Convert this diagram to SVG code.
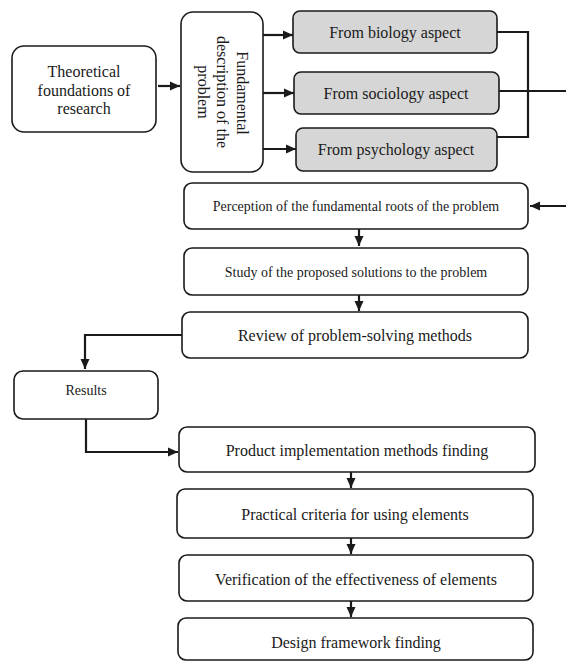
<svg xmlns="http://www.w3.org/2000/svg" width="566" height="661" viewBox="0 0 566 661">
<defs>
<marker id="ah" markerUnits="userSpaceOnUse" markerWidth="10" markerHeight="10" refX="10" refY="5" orient="auto"><path d="M0,0.5 L10,5 L0,9.5 z" fill="#1a1a1a"/></marker>
</defs>
<style>
.box{fill:#fff;stroke:#1a1a1a;stroke-width:1.6}
.gray{fill:#d6d6d6;stroke:#1a1a1a;stroke-width:1.6}
text{font-family:"Liberation Serif","Times New Roman",serif;fill:#1a1a1a;text-anchor:middle}
.t16{font-size:16px}
.t14{font-size:14px}
.c{fill:none;stroke:#1a1a1a;stroke-width:2.2}
</style>
<rect width="566" height="661" fill="#fff"/>
<g id="theoretical">
<rect class="box" x="12" y="46" width="144" height="86" rx="12"/>
<text class="t16" x="84" y="77">Theoretical</text>
<text class="t16" x="84" y="95.5">foundations of</text>
<text class="t16" x="84" y="114">research</text>
</g>
<g id="fundamental">
<rect class="box" x="181" y="12" width="82" height="160" rx="12"/>
<text class="t16" transform="translate(237,93) rotate(90)">Fundamental</text>
<text class="t16" transform="translate(217,92) rotate(90)">description of the</text>
<text class="t16" transform="translate(198,92) rotate(90)">problem</text>
</g>
<g id="biology">
<rect class="gray" x="293" y="11" width="204" height="42" rx="7"/>
<text class="t16" x="395" y="37.5">From biology aspect</text>
</g>
<g id="sociology">
<rect class="gray" x="294" y="72" width="205" height="42" rx="7"/>
<text class="t16" x="396" y="98.5">From sociology aspect</text>
</g>
<g id="psychology">
<rect class="gray" x="296" y="128" width="201" height="43" rx="7"/>
<text class="t16" x="396" y="155">From psychology aspect</text>
</g>
<g id="perception">
<rect class="box" x="184" y="183" width="344" height="46" rx="8"/>
<text class="t14" x="356" y="211">Perception of the fundamental roots of the problem</text>
</g>
<g id="study">
<rect class="box" x="184" y="248" width="344" height="47" rx="8"/>
<text class="t14" x="356" y="276.5">Study of the proposed solutions to the problem</text>
</g>
<g id="review">
<rect class="box" x="182" y="312" width="346" height="46" rx="8"/>
<text class="t16" x="355" y="340.5">Review of problem-solving methods</text>
</g>
<g id="results">
<rect class="box" x="14" y="371" width="144" height="48" rx="9"/>
<text class="t14" x="86" y="395">Results</text>
</g>
<g id="product">
<rect class="box" x="179" y="427" width="356" height="45" rx="8"/>
<text class="t16" x="357" y="456">Product implementation methods finding</text>
</g>
<g id="practical">
<rect class="box" x="177" y="489" width="356" height="49" rx="8"/>
<text class="t16" x="355" y="520">Practical criteria for using elements</text>
</g>
<g id="verification">
<rect class="box" x="179" y="555" width="354" height="46" rx="8"/>
<text class="t16" x="356" y="585">Verification of the effectiveness of elements</text>
</g>
<g id="design">
<rect class="box" x="178" y="618" width="355" height="42" rx="8"/>
<text class="t16" x="356" y="648">Design framework finding</text>
</g>
<g id="connectors">
<line class="c" x1="158" y1="86" x2="180" y2="86" marker-end="url(#ah)"/>
<line class="c" x1="263" y1="35" x2="293" y2="35" marker-end="url(#ah)"/>
<line class="c" x1="263" y1="93" x2="294" y2="93" marker-end="url(#ah)"/>
<line class="c" x1="263" y1="149" x2="296" y2="149" marker-end="url(#ah)"/>
<path class="c" d="M497,32 H528 V137 H497"/>
<line class="c" x1="499" y1="91" x2="566" y2="91"/>
<line class="c" x1="566" y1="206" x2="530" y2="206" marker-end="url(#ah)"/>
<line class="c" x1="359" y1="229" x2="359" y2="246" marker-end="url(#ah)"/>
<line class="c" x1="359" y1="295" x2="359" y2="311" marker-end="url(#ah)"/>
<path class="c" d="M182,335 H85 V369" marker-end="url(#ah)"/>
<path class="c" d="M86,419 V452 H178" marker-end="url(#ah)"/>
<line class="c" x1="351" y1="472" x2="351" y2="488" marker-end="url(#ah)"/>
<line class="c" x1="351" y1="538" x2="351" y2="554" marker-end="url(#ah)"/>
<line class="c" x1="351" y1="601" x2="351" y2="617" marker-end="url(#ah)"/>
</g>
</svg>
